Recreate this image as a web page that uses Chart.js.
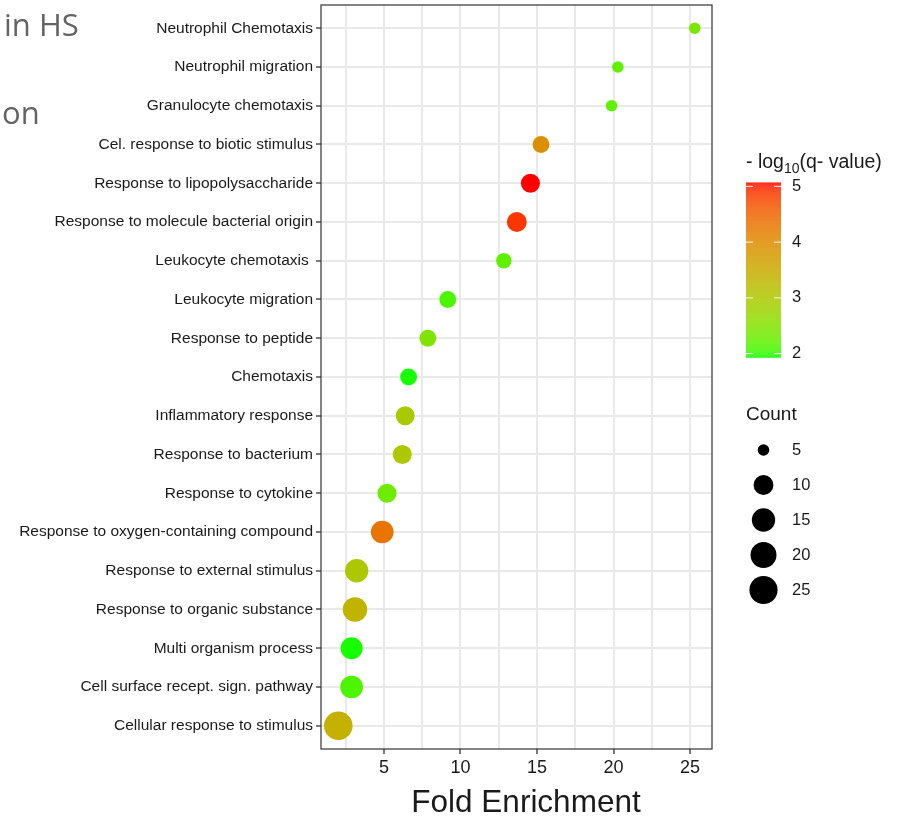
<!DOCTYPE html>
<html>
<head>
<meta charset="utf-8">
<script src="https://cdn.jsdelivr.net/npm/chart.js@4/dist/chart.umd.min.js"></script>
<style>
html,body{margin:0;padding:0;background:#ffffff;}
#wrap{position:relative;width:902px;height:818px;}
canvas{display:block;}
</style>
</head>
<body>
<div id="wrap"><canvas id="c" width="902" height="818"></canvas></div>
<script>
// ---------- data (top to bottom) ----------
const categories = [
  "Neutrophil Chemotaxis",
  "Neutrophil migration",
  "Granulocyte chemotaxis",
  "Cel. response to biotic stimulus",
  "Response to lipopolysaccharide",
  "Response to molecule bacterial origin",
  "Leukocyte chemotaxis ",
  "Leukocyte migration",
  "Response to peptide",
  "Chemotaxis",
  "Inflammatory response",
  "Response to bacterium",
  "Response to cytokine",
  "Response to oxygen-containing compound",
  "Response to external stimulus",
  "Response to organic substance",
  "Multi organism process",
  "Cell surface recept. sign. pathway",
  "Cellular response to stimulus"
];
const foldEnrichment = [25.3, 20.28, 19.87, 15.26, 14.57, 13.68, 12.83, 9.17, 7.87, 6.61, 6.39, 6.2, 5.2, 4.89, 3.22, 3.11, 2.89, 2.89, 2.02];
const geneCount      = [5, 5, 5, 7, 9, 10, 6, 7, 7, 7, 9, 9, 9, 14, 15, 17, 13, 14, 26];
const negLog10Q      = [2.4, 2.2, 2.2, 3.95, 5.07, 4.9, 2.2, 2.1, 2.45, 1.95, 2.95, 3.0, 2.3, 4.3, 3.0, 3.35, 1.95, 2.1, 3.4];

const xGridValues   = [2.5, 5, 7.5, 10, 12.5, 15, 17.5, 20, 22.5, 25];
const xTickLabels   = [5, 10, 15, 20, 25];
const colorbarTicks = [2, 3, 4, 5];
const sizeLegendCounts = [5, 10, 15, 20, 25];

// ---------- scales for colour and size ----------
const qLimits = [1.93, 5.07];
const countLimits = [5, 26];
const radiusRange = [5.8, 14.3];

function srgbToLinear(c){c/=255;return c<=0.04045?c/12.92:Math.pow((c+0.055)/1.055,2.4);}
function linearToSrgb(c){const v=c<=0.0031308?12.92*c:1.055*Math.pow(c,1/2.4)-0.055;return Math.round(Math.max(0,Math.min(1,v))*255);}
function rgbToLab(rgb){
  const R=srgbToLinear(rgb[0]),G=srgbToLinear(rgb[1]),B=srgbToLinear(rgb[2]);
  const X=(0.4124*R+0.3576*G+0.1805*B)/0.95047,Y=(0.2126*R+0.7152*G+0.0722*B),Z=(0.0193*R+0.1192*G+0.9505*B)/1.08883;
  const f=t=>t>0.008856?Math.cbrt(t):7.787*t+16/116;
  const fx=f(X),fy=f(Y),fz=f(Z);
  return [116*fy-16,500*(fx-fy),200*(fy-fz)];
}
function labToRgb(lab){
  const fy=(lab[0]+16)/116,fx=fy+lab[1]/500,fz=fy-lab[2]/200;
  const finv=t=>t*t*t>0.008856?t*t*t:(t-16/116)/7.787;
  const X=finv(fx)*0.95047,Y=finv(fy),Z=finv(fz)*1.08883;
  const R=3.2406*X-1.5372*Y-0.4986*Z,G=-0.9689*X+1.8758*Y+0.0415*Z,B=0.0557*X-0.2040*Y+1.0570*Z;
  return [linearToSrgb(R),linearToSrgb(G),linearToSrgb(B)];
}
const labLow = rgbToLab([0,255,0]);
const labHigh = rgbToLab([255,0,0]);
function qColor(q){
  let t=(q-qLimits[0])/(qLimits[1]-qLimits[0]);
  t=Math.max(0,Math.min(1,t));
  const lab=[0,1,2].map(k=>labLow[k]+(labHigh[k]-labLow[k])*t);
  const c=labToRgb(lab);
  return 'rgb('+c[0]+','+c[1]+','+c[2]+')';
}
function countRadius(n){
  const t=Math.max(0,(n-countLimits[0])/(countLimits[1]-countLimits[0]));
  return radiusRange[0]+(radiusRange[1]-radiusRange[0])*Math.sqrt(t);
}

const FONT = "'Liberation Sans', Arial, Helvetica, sans-serif";
const TXT = '#1a1a1a';

function zeroPad(s){ s.paddingLeft = 0; s.paddingRight = 0; s.paddingTop = 0; s.paddingBottom = 0; }

// ---------- decorations: border, titles, legends ----------
const decor = {
  id: 'decor',
  afterDatasetsDraw(chart){
    const ctx = chart.ctx, a = chart.chartArea;
    ctx.save();
    ctx.strokeStyle = '#333333';
    ctx.lineWidth = 1.2;
    ctx.strokeRect(a.left, a.top, a.right - a.left, a.bottom - a.top);
    ctx.restore();
  },
  afterDraw(chart){
    const ctx = chart.ctx;
    ctx.save();
    // axis title
    ctx.fillStyle = TXT;
    ctx.font = '31.5px ' + FONT;
    ctx.textAlign = 'center';
    ctx.textBaseline = 'middle';
    ctx.fillText('Fold Enrichment', 526, 803);

    // colour legend title
    ctx.textAlign = 'left';
    ctx.textBaseline = 'alphabetic';
    ctx.font = '19.5px ' + FONT;
    let x = 746;
    const baseY = 168;
    ctx.fillText('- log', x, baseY);
    x += ctx.measureText('- log').width;
    ctx.font = '14px ' + FONT;
    ctx.fillText('10', x, baseY + 5);
    x += ctx.measureText('10').width;
    ctx.font = '19.5px ' + FONT;
    ctx.fillText('(q- value)', x, baseY);

    // colour bar
    const barL = 746, barR = 781, barTop = 182.5, barBot = 357.5;
    const px = (barBot - barTop) / (qLimits[1] - qLimits[0]);
    for (let y = barTop; y < barBot; y += 1) {
      const q = qLimits[1] - (y + 0.5 - barTop) / px;
      ctx.fillStyle = qColor(q);
      ctx.fillRect(barL, y, barR - barL, 1.2);
    }
    ctx.strokeStyle = 'rgba(255,255,255,0.9)';
    ctx.lineWidth = 1;
    ctx.font = '16.5px ' + FONT;
    ctx.textBaseline = 'middle';
    colorbarTicks.forEach(v => {
      const y = barBot - (v - qLimits[0]) * px;
      ctx.beginPath();
      ctx.moveTo(barL, y); ctx.lineTo(barL + 7, y);
      ctx.moveTo(barR - 7, y); ctx.lineTo(barR, y);
      ctx.stroke();
      ctx.fillStyle = TXT;
      ctx.fillText(String(v), 792, y);
    });

    // size legend
    ctx.font = '19px ' + FONT;
    ctx.textBaseline = 'alphabetic';
    ctx.fillStyle = TXT;
    ctx.fillText('Count', 746, 420);
    ctx.font = '16.5px ' + FONT;
    ctx.textBaseline = 'middle';
    sizeLegendCounts.forEach((n, i) => {
      const cy = 450 + i * 35;
      ctx.beginPath();
      ctx.fillStyle = '#000000';
      ctx.arc(763.5, cy, countRadius(n), 0, Math.PI * 2);
      ctx.fill();
      ctx.fillStyle = TXT;
      ctx.fillText(String(n), 792, cy);
    });

    // cropped slide text at top-left
    ctx.fillStyle = '#646464';
    ctx.font = "31px 'Open Sans', 'Noto Sans', sans-serif";
    ctx.textBaseline = 'alphabetic';
    ctx.fillText('in HS', 4, 36);
    ctx.fillText('on', 2, 124);
    ctx.restore();
  }
};

const points = categories.map((c, i) => ({ x: foldEnrichment[i], y: i }));

new Chart(document.getElementById('c'), {
  type: 'scatter',
  data: {
    datasets: [{
      data: points,
      pointRadius: ctx => countRadius(geneCount[ctx.dataIndex]),
      pointHoverRadius: ctx => countRadius(geneCount[ctx.dataIndex]),
      pointBackgroundColor: ctx => qColor(negLog10Q[ctx.dataIndex]),
      pointBorderWidth: 0,
      pointBorderColor: 'rgba(0,0,0,0)'
    }]
  },
  options: {
    responsive: false,
    animation: false,
    events: [],
    layout: { autoPadding: false, padding: { top: 5, right: 190, left: 0, bottom: 0 } },
    plugins: { legend: { display: false }, tooltip: { enabled: false } },
    scales: {
      x: {
        type: 'linear',
        min: 0.89,
        max: 26.43,
        afterBuildTicks: s => { s.ticks = xGridValues.map(v => ({ value: v })); },
        afterFit: s => { s.height = 69; zeroPad(s); },
        border: { display: false },
        grid: {
          color: '#e9e9e9',
          lineWidth: 2,
          drawTicks: true,
          tickLength: 5,
          tickWidth: 1.3,
          tickColor: c => xTickLabels.includes(c.tick && c.tick.value) ? '#333333' : 'rgba(0,0,0,0)'
        },
        ticks: {
          autoSkip: false,
          maxRotation: 0,
          padding: 3,
          color: TXT,
          font: { family: FONT, size: 18 },
          callback: v => xTickLabels.includes(v) ? String(v) : ''
        }
      },
      y: {
        type: 'linear',
        reverse: true,
        min: -0.6,
        max: 18.6,
        afterBuildTicks: s => { s.ticks = categories.map((c, i) => ({ value: i })); },
        afterFit: s => { s.width = 321; zeroPad(s); },
        border: { display: false },
        grid: {
          color: '#e9e9e9',
          lineWidth: 2,
          drawTicks: true,
          tickLength: 5,
          tickWidth: 1.3,
          tickColor: '#333333'
        },
        ticks: {
          autoSkip: false,
          padding: 3,
          color: TXT,
          font: { family: FONT, size: 15.5 },
          callback: v => categories[v]
        }
      }
    }
  },
  plugins: [decor]
});
</script>
</body>
</html>
